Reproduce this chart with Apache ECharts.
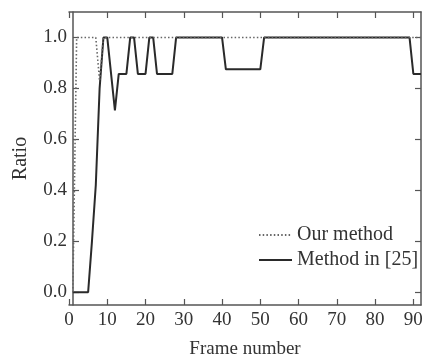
<!DOCTYPE html>
<html>
<head>
    <meta charset="utf-8">
    <title>Ratio | ECharts</title>
    <script src="https://cdn.jsdelivr.net/npm/echarts@6/dist/echarts.min.js"></script>
    <style>html, body { margin: 0; padding: 0; background: #fff; }</style>
</head>
<body>
    <div id="main" style="width: 422px;height:364px;"></div>
    <script type="text/javascript">
        // vertices: frame number / ratio
        var ourFrames = [1, 2, 7, 8, 9, 92];
        var ourRatio  = [0, 1.0, 1.0, 0.83, 1.0, 1.0];

        var refFrames = [1, 5, 6, 7, 8, 9, 10, 12, 13, 15, 16, 17, 18, 20, 21, 22, 23, 27, 28, 40, 41, 50, 51, 89, 90, 92];
        var refRatio  = [0, 0, 0.2, 0.42, 0.8, 1.0, 1.0, 0.714, 0.857, 0.857, 1.0, 1.0, 0.857, 0.857, 1.0, 1.0, 0.857, 0.857, 1.0, 1.0, 0.875, 0.875, 1.0, 1.0, 0.857, 0.857];

        var xTicks = [0, 10, 20, 30, 40, 50, 60, 70, 80, 90];
        var yTicks = [0, 0.2, 0.4, 0.6, 0.8, 1.0];

        function pairs(xs, ys) {
            return xs.map(function (x, i) { return [x, ys[i]]; });
        }

        var font = 'Liberation Serif';
        var axisColor = '#555';

        var myChart = echarts.init(document.getElementById('main'));

        var option = {
            animation: false,
            textStyle: { fontFamily: font },
            grid: { left: 69, right: 1, top: 12, bottom: 59, outerBoundsMode: 'none', containLabel: false },
            legend: {
                orient: 'vertical',
                left: 253,
                top: 220,
                itemWidth: 33,
                itemHeight: 14,
                itemGap: 5,
                itemStyle: { opacity: 0 },
                textStyle: { fontFamily: font, fontSize: 20, color: '#333' },
                data: ['Our method', 'Method in [25]']
            },
            xAxis: [
                {
                    type: 'value', position: 'bottom', min: 0, max: 92,
                    name: 'Frame number', nameLocation: 'middle', nameGap: 35,
                    nameTextStyle: { fontFamily: font, fontSize: 19, color: '#333' },
                    axisLine: { onZero: false, lineStyle: { color: axisColor, width: 1.5 } },
                    axisTick: { inside: true, length: 6, customValues: xTicks, lineStyle: { color: axisColor, width: 1.2 } },
                    axisLabel: { customValues: xTicks, fontFamily: font, fontSize: 19, color: '#333', margin: 6 },
                    splitLine: { show: false }
                },
                {
                    type: 'value', position: 'top', min: 0, max: 92,
                    axisLine: { onZero: false, lineStyle: { color: axisColor, width: 1.5 } },
                    axisTick: { inside: true, length: 6, customValues: xTicks, lineStyle: { color: axisColor, width: 1.2 } },
                    axisLabel: { show: false },
                    splitLine: { show: false }
                }
            ],
            yAxis: [
                {
                    type: 'value', position: 'left', min: -0.05, max: 1.1, offset: -4,
                    name: 'Ratio', nameLocation: 'middle', nameGap: 42,
                    nameTextStyle: { fontFamily: font, fontSize: 20, color: '#333' },
                    axisLine: { show: true, onZero: false, lineStyle: { color: axisColor, width: 1.5 } },
                    axisTick: { show: true, inside: true, length: 6, customValues: yTicks, lineStyle: { color: axisColor, width: 1.2 } },
                    axisLabel: {
                        customValues: yTicks, fontFamily: font, fontSize: 19, color: '#333', margin: 6,
                        formatter: function (v) { return v.toFixed(1); }
                    },
                    splitLine: { show: false }
                },
                {
                    type: 'value', position: 'right', min: -0.05, max: 1.1,
                    axisLine: { show: true, onZero: false, lineStyle: { color: axisColor, width: 1.5 } },
                    axisTick: { show: true, inside: true, length: 6, customValues: yTicks, lineStyle: { color: axisColor, width: 1.2 } },
                    axisLabel: { show: false },
                    splitLine: { show: false }
                }
            ],
            series: [
                {
                    name: 'Our method',
                    type: 'line',
                    symbol: 'none',
                    data: pairs(ourFrames, ourRatio),
                    lineStyle: { color: '#666', width: 1.6, type: [1.5, 2.2] },
                    itemStyle: { color: '#666' },
                    z: 3
                },
                {
                    name: 'Method in [25]',
                    type: 'line',
                    symbol: 'none',
                    data: pairs(refFrames, refRatio),
                    lineStyle: { color: '#2a2a2a', width: 2 },
                    itemStyle: { color: '#2a2a2a' },
                    z: 2
                }
            ]
        };

        myChart.setOption(option);
    </script>
</body>
</html>
